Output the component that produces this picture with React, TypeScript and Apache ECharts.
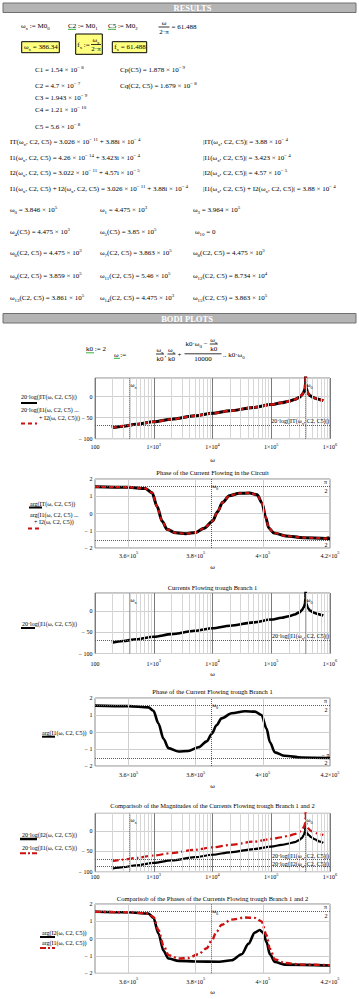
import React, { useEffect, useRef } from 'react';
import * as echarts from 'echarts';

// ---------------- data (read from the worksheet) ----------------
const omegaX = 386.34;
const omega0 = 3.846e5;
const levelIT = -68.22; // 20 log|IT(wx)|
const levelI1 = -69.31; // 20 log|I1(wx)|
const levelI2 = -86.8; // 20 log|I2(wx)|
const halfPi = 1.5708;

const logTickValues = [100, 1e3, 1e4, 1e5, 1e6];
const phaseGridValues = [3.6e5, 3.8e5, 4e5];

const magOmega = [193.17, 300, 500, 1e3, 2e3, 5e3, 1e4, 2e4, 5e4, 1e5, 1.5e5, 2e5, 2.5e5, 3e5, 3.3e5, 3.6e5, 3.75e5, 3.82e5, 3.846e5, 3.87e5, 3.95e5, 4.2e5, 4.6e5, 5.2e5, 6e5, 7e5, 7.692e5];
const magIT = [-74, -70.2, -66, -59.8, -53.8, -45.8, -39.8, -33.8, -25.8, -19, -14.8, -11, -7, -2, 3, 10.5, 19, 31, 62, 32, 19, 8, 2, -2.5, -5.5, -8, -9.5];
const magI1 = [-74.2, -70.4, -66, -60, -54, -46, -40, -34, -26, -19.2, -15, -11.2, -7.2, -2.2, 2.8, 10.3, 19, 31, 62, 32, 19, 8, 2, -2.5, -5.5, -8, -9.5];

const magI2Omega = [193.17, 300, 500, 1e3, 2e3, 5e3, 1e4, 2e4, 5e4, 1e5, 1.5e5, 2e5, 2.5e5, 3e5, 3.3e5, 3.6e5, 3.75e5, 3.82e5, 3.846e5, 3.87e5, 3.93e5, 3.99e5, 4.05e5, 4.3e5, 4.8e5, 5.5e5, 6.5e5, 7.692e5];
const magI2 = [-92.5, -88.7, -84.2, -78.2, -72.2, -64.2, -58.2, -52.2, -44.2, -38, -34, -30.5, -27, -22, -17, -9, 0, 12, 20, 12, 3, -10, -4, -9, -15, -20, -25, -29];

const phaseOmegaIT = [3.5e5, 3.6e5, 3.65e5, 3.67e5, 3.685e5, 3.7e5, 3.715e5, 3.74e5, 3.77e5, 3.8e5, 3.825e5, 3.85e5, 3.865e5, 3.88e5, 3.9e5, 3.93e5, 3.96e5, 3.983e5, 3.998e5, 4.008e5, 4.018e5, 4.033e5, 4.068e5, 4.12e5, 4.2e5];
const phaseIT = [1.55, 1.52, 1.45, 1.2, 0.4, -0.45, -0.92, -1.12, -1.17, -1.1, -0.85, -0.45, 0.1, 0.65, 1.03, 1.17, 1.19, 1.08, 0.6, -0.2, -0.85, -1.13, -1.3, -1.4, -1.46];

const phaseOmegaI1 = [3.5e5, 3.6e5, 3.659e5, 3.674e5, 3.689e5, 3.704e5, 3.719e5, 3.749e5, 3.778e5, 3.808e5, 3.833e5, 3.848e5, 3.862e5, 3.877e5, 3.907e5, 3.947e5, 3.976e5, 3.996e5, 4.011e5, 4.021e5, 4.036e5, 4.065e5, 4.115e5, 4.2e5];
const phaseI1 = [1.55, 1.52, 1.45, 1.25, 0.5, -0.4, -0.95, -1.15, -1.12, -0.9, -0.55, -0.1, 0.4, 0.8, 1.1, 1.22, 1.2, 1.0, 0.2, -0.6, -1.2, -1.4, -1.5, -1.53];

const phaseOmegaI2 = [3.5e5, 3.6e5, 3.659e5, 3.674e5, 3.689e5, 3.704e5, 3.719e5, 3.749e5, 3.8e5, 3.87e5, 3.907e5, 3.937e5, 3.957e5, 3.976e5, 3.991e5, 4.001e5, 4.011e5, 4.021e5, 4.036e5, 4.065e5, 4.2e5];
const phaseI2 = [1.55, 1.52, 1.45, 1.2, 0.3, -0.7, -1.15, -1.28, -1.32, -1.33, -1.25, -0.9, -0.3, 0.35, 0.5, 0.35, -0.2, -0.9, -1.35, -1.5, -1.55];

// ---------------- helpers ----------------
const FF = '"Liberation Serif","Times New Roman",Times,serif';
const RED = '#cc1111';
const MARK = '#a83a3a';
const zip = (xs: number[], ys: number[]) => xs.map((x, i) => [x, ys[i]]);

const n = (s: string) => `{n|${s}}`;
const sb = (s: string) => `{b|${s}}`;
const sp = (s: string) => `{s|${s}}`;

function makeRich(size: number) {
  return {
    n: { fontSize: size, fontFamily: FF, fill: '#000', lineHeight: size + 3 },
    s: { fontSize: size * 0.7, fontFamily: FF, fill: '#000', lineHeight: size * 0.7, verticalAlign: 'top' },
    b: { fontSize: size * 0.7, fontFamily: FF, fill: '#000', lineHeight: size * 0.7, verticalAlign: 'bottom' },
  };
}
function txt(x: number, y: number, text: string, o: any = {}) {
  const size = o.size ?? 7;
  return {
    type: 'text', x, y, silent: true, z: 10,
    style: {
      text, align: o.align ?? 'left', verticalAlign: 'middle', fill: '#000',
      fontSize: size, fontFamily: FF, rich: makeRich(size),
    },
  };
}
function ln(x1: number, y1: number, x2: number, y2: number, stroke = '#000', w = 0.8, dash?: number[]) {
  return { type: 'line', silent: true, z: 10, shape: { x1, y1, x2, y2 }, style: { stroke, lineWidth: w, lineDash: dash } };
}
function rect(x: number, y: number, w: number, h: number, fill: string, stroke: string) {
  return { type: 'rect', silent: true, z: 5, shape: { x, y, width: w, height: h }, style: { fill, stroke, lineWidth: 1 } };
}
function frac(cx: number, yBar: number, num: string, den: string, w: number) {
  return [txt(cx, yBar - 4.3, num, { align: 'center' }), ln(cx - w / 2, yBar, cx + w / 2, yBar), txt(cx, yBar + 4.8, den, { align: 'center' })];
}
const gline = (x1: number, x2: number, y: number) => ln(x1, y, x2, y, '#22aa22', 0.9);

// ---------------- layout of the six plots ----------------
const GRID_LEFT = 95;
const GRID_W = 235;
const grids = [
  { top: 378, height: 60.7, kind: 'mag', margin: 3.6, nameGap: 17.5, name: 'ω' },
  { top: 479, height: 69, kind: 'phase', margin: 2.7, nameGap: 15.5, name: 'ω' },
  { top: 593, height: 60.5, kind: 'mag', margin: 5, nameGap: 17, name: 'ω' },
  { top: 698, height: 68, kind: 'phase', margin: 4, nameGap: 16, name: 'ω' },
  { top: 813.3, height: 58.4, kind: 'mag', margin: 0.5, nameGap: 15, name: '' },
  { top: 904, height: 69.3, kind: 'phase', margin: 3.4, nameGap: 15.5, name: 'ω' },
];

const tickRich = {
  n: { fontSize: 6, fontFamily: FF, color: '#000', lineHeight: 10 },
  s: { fontSize: 4.3, fontFamily: FF, color: '#000', lineHeight: 4.5, verticalAlign: 'top' },
};

function buildOption() {
  const minorGrid: number[] = [];
  logTickValues.slice(0, 4).forEach((d) => { for (let k = 2; k <= 9; k++) minorGrid.push(d * k); });

  const xAxis = grids.map((g, i) => {
    const common = {
      gridIndex: i,
      axisLine: { show: false }, axisTick: { show: false },
      name: g.name, nameLocation: 'middle', nameGap: g.nameGap,
      nameTextStyle: { fontFamily: FF, fontSize: 7, color: '#000' },
    };
    if (g.kind === 'mag') {
      return {
        ...common, type: 'log', logBase: 10, min: 100, max: 1e6,
        splitLine: { show: true, lineStyle: { color: '#7a7a7a', width: 1 } },
        axisLabel: {
          margin: g.margin, showMinLabel: true, showMaxLabel: true, rich: tickRich,
          formatter: (v: number) => { const e = Math.round(Math.log10(v)); return e === 2 ? '{n|100}' : `{n|1×10}{s|${e}}`; },
        },
      };
    }
    return {
      ...common, type: 'value', min: 3.5e5, max: 4.2e5, interval: 1e4,
      splitLine: { show: false },
      axisLabel: {
        margin: g.margin, showMinLabel: true, showMaxLabel: true, rich: tickRich,
        formatter: (v: number) => { const k = Math.round(v / 1e4); return k % 2 !== 0 ? '' : `{n|${k / 10}×10}{s|5}`; },
      },
    };
  });

  const yAxis = grids.map((g, i) => {
    const common = {
      gridIndex: i, axisLine: { show: false }, axisTick: { show: false },
      splitLine: { show: true, lineStyle: { color: '#cfcfcf', width: 1 } },
    };
    if (g.kind === 'mag') {
      return {
        ...common, type: 'value', min: -100, max: 44, interval: 50,
        axisLabel: {
          margin: 2.5, rich: tickRich, showMaxLabel: false,
          formatter: (v: number) => (v % 50 !== 0 ? '' : v === 0 ? '{n|0}' : `{n|− ${-v}}`),
        },
      };
    }
    return {
      ...common, type: 'value', min: -2, max: 2, interval: 1,
      axisLabel: {
        margin: 2.5, rich: tickRich, showMaxLabel: true, showMinLabel: true,
        formatter: (v: number) => (v === 0 ? '{n|0}' : v < 0 ? `{n|− ${-v}}` : `{n|${v}}`),
      },
    };
  });

  const series: any[] = [];
  const gridLines = (gi: number, values: number[], color: string) => ({
    type: 'line', xAxisIndex: gi, yAxisIndex: gi, data: [], z: 1, silent: true,
    markLine: { silent: true, symbol: ['none', 'none'], label: { show: false }, animation: false,
      lineStyle: { color, width: 1, type: 'solid' }, data: values.map((v) => ({ xAxis: v })) },
  });
  const markers = (gi: number, data: any[]) => ({
    type: 'line', xAxisIndex: gi, yAxisIndex: gi, data: [], z: 2, silent: true,
    markLine: { silent: true, symbol: ['none', 'none'], label: { show: false }, animation: false,
      lineStyle: { color: MARK, width: 1, type: 'dotted' }, data },
  });
  const curve = (gi: number, data: number[][], color: string, width: number, type: any, z: number) => ({
    type: 'line', xAxisIndex: gi, yAxisIndex: gi, data, z, silent: true,
    showSymbol: false, symbol: 'none', smooth: 0.3, smoothMonotone: 'x', clip: true,
    lineStyle: { color, width, type, cap: 'butt' },
  });

  [0, 2, 4].forEach((gi) => series.push(gridLines(gi, minorGrid, '#d6d6d6')));
  [1, 3, 5].forEach((gi) => series.push(gridLines(gi, phaseGridValues, '#cfcfcf')));

  series.push(markers(0, [{ xAxis: omegaX }, { xAxis: omega0 }, { yAxis: levelIT }]));
  series.push(markers(1, [{ xAxis: omega0 }, { yAxis: halfPi }, { yAxis: -halfPi }]));
  series.push(markers(2, [{ xAxis: omegaX }, { xAxis: omega0 }, { yAxis: levelI1 }]));
  series.push(markers(3, [{ xAxis: omega0 }, { yAxis: halfPi }, { yAxis: -halfPi }]));
  series.push(markers(4, [{ xAxis: omegaX }, { xAxis: omega0 }, { yAxis: levelI1 }, { yAxis: levelI2 }]));
  series.push(markers(5, [{ xAxis: omega0 }, { yAxis: halfPi }]));

  // plot 1: |IT| and |I1+I2|
  series.push(curve(0, zip(magOmega, magIT), '#000', 3, 'solid', 3));
  series.push(curve(0, zip(magOmega, magIT), RED, 2.4, [5, 3], 4));
  // plot 2: arg IT and arg(I1+I2)
  series.push(curve(1, zip(phaseOmegaIT, phaseIT), '#000', 3, 'solid', 3));
  series.push(curve(1, zip(phaseOmegaIT, phaseIT), RED, 2.2, [4, 3], 4));
  // plot 3: |I1|
  series.push(curve(2, zip(magOmega, magI1), '#000', 2.6, 'solid', 3));
  // plot 4: arg I1
  series.push(curve(3, zip(phaseOmegaI1, phaseI1), '#000', 2.6, 'solid', 3));
  // plot 5: |I2| and |I1|
  series.push(curve(4, zip(magI2Omega, magI2), '#000', 2.2, 'solid', 3));
  series.push(curve(4, zip(magOmega, magI1), RED, 2.2, [7, 3, 2, 3], 4));
  // plot 6: arg I2 and arg I1
  series.push(curve(5, zip(phaseOmegaI2, phaseI2), '#000', 2.6, 'solid', 3));
  series.push(curve(5, zip(phaseOmegaI1, phaseI1), RED, 2.4, [6, 3, 2, 3], 4));

  return {
    animation: false,
    backgroundColor: '#ffffff',
    grid: grids.map((g) => ({ left: GRID_LEFT, top: g.top, width: GRID_W, height: g.height, show: true, borderColor: '#8a8a8a', borderWidth: 1, backgroundColor: 'transparent' })),
    xAxis, yAxis, series,
  };
}

function staticGraphics() {
  const g: any[] = [];
  // section bars
  g.push(rect(3, 3, 353, 9.5, '#b4b4b4', '#707070'));
  g.push({ type: 'text', x: 192.5, y: 8, silent: true, z: 10, style: { text: 'RESULTS', fill: '#ffffff', fontSize: 8.5, fontWeight: 'bold', fontFamily: FF, align: 'center', verticalAlign: 'middle' } });
  g.push(rect(3, 313.5, 353, 9.5, '#b4b4b4', '#707070'));
  g.push({ type: 'text', x: 187, y: 318.5, silent: true, z: 10, style: { text: 'BODI PLOTS', fill: '#ffffff', fontSize: 8.5, fontWeight: 'bold', fontFamily: FF, align: 'center', verticalAlign: 'middle' } });

  // definitions row
  g.push(txt(21, 25.5, n('ω') + sb('x') + n(' := M0') + sb('0')));
  g.push(txt(68, 25.5, n('C2 := M0') + sb('1')), gline(68, 76, 29.3));
  g.push(txt(108, 25.5, n('C5 := M0') + sb('2')), gline(108, 116, 29.3));
  g.push(...frac(164, 27, n('ω'), n('2·π'), 11));
  g.push(txt(171.5, 26.8, n('= 61.488')));

  // yellow boxes
  g.push(rect(21.7, 41.7, 37.6, 11, '#ffff80', '#000'));
  g.push(txt(24, 47.2, n('ω') + sb('x') + n(' = 386.34')));
  g.push(rect(75.7, 34, 26.6, 20.3, '#ffff80', '#000'));
  g.push(txt(77.3, 45, n('f') + sb('x') + n(' :=')));
  g.push(...frac(96, 44.5, n('ω') + sb('x'), n('2·π'), 10));
  g.push(rect(112.3, 41.7, 34.4, 11, '#ffff80', '#000'));
  g.push(txt(114.2, 47.2, n('f') + sb('x') + n(' = 61.488')));

  // capacitors
  g.push(txt(35, 69.5, n('C1 = 1.54 × 10') + sp('− 8')));
  g.push(txt(120, 69.5, n('Cp(C5) = 1.878 × 10') + sp('− 9')));
  g.push(txt(35, 85.5, n('C2 = 4.7 × 10') + sp('− 7')));
  g.push(txt(120, 85.5, n('Cq(C2, C5) = 1.679 × 10') + sp('− 8')));
  g.push(txt(35, 98, n('C3 = 1.943 × 10') + sp('− 9')));
  g.push(txt(35, 109.5, n('C4 = 1.21 × 10') + sp('− 10')));
  g.push(txt(35, 126.5, n('C5 = 5.6 × 10') + sp('− 8')));

  // currents at wx
  const wa = (f: string) => n(f + '(ω') + sb('x') + n(', C2, C5)');
  g.push(txt(10, 141.5, wa('IT') + n(' = 3.026 × 10') + sp('− 11') + n(' + 3.88i × 10') + sp('− 4')));
  g.push(txt(203, 141.5, n('|') + wa('IT') + n('| = 3.88 × 10') + sp('− 4')));
  g.push(txt(10, 157.5, wa('I1') + n(' = 4.26 × 10') + sp('− 14') + n(' + 3.423i × 10') + sp('− 4')));
  g.push(txt(203, 157.5, n('|') + wa('I1') + n('| = 3.423 × 10') + sp('− 4')));
  g.push(txt(10, 173, wa('I2') + n(' = 3.022 × 10') + sp('− 11') + n(' + 4.57i × 10') + sp('− 5')));
  g.push(txt(203, 173, n('|') + wa('I2') + n('| = 4.57 × 10') + sp('− 5')));
  g.push(txt(10, 188.5, wa('I1') + n(' + ') + wa('I2') + n(' = 3.026 × 10') + sp('− 11') + n(' + 3.88i × 10') + sp('− 4')));
  g.push(txt(203, 188.5, n('|') + wa('I1') + n(' + ') + wa('I2') + n('| = 3.88 × 10') + sp('− 4')));

  // characteristic frequencies
  const om = (sub: string, arg: string, val: string, exp?: string) =>
    n('ω') + sb(sub) + n(arg + ' = ' + val + (exp ? ' × 10' : '')) + (exp ? sp(exp) : '');
  const rows: [number, [string, string, string, string?][]][] = [
    [210, [['0', '', '3.846', '5'], ['1', '', '4.475', '3'], ['3', '', '3.964', '5']]],
    [232, [['4', '(C5)', '4.475', '3'], ['5', '(C5)', '3.85', '5'], ['10', '', '0']]],
    [253, [['6', '(C2, C5)', '4.475', '3'], ['7', '(C2, C5)', '3.863', '5'], ['8', '(C2, C5)', '4.475', '3']]],
    [276, [['9', '(C2, C5)', '3.859', '5'], ['11', '(C2, C5)', '5.46', '5'], ['12', '(C2, C5)', '8.734', '4']]],
    [298, [['13', '(C2, C5)', '3.861', '5'], ['14', '(C2, C5)', '4.475', '3'], ['15', '(C2, C5)', '3.863', '5']]],
  ];
  const cols = [10, 100, 193];
  rows.forEach(([y, items]) => items.forEach((it, k) => g.push(txt(cols[k] + (it[0] === '10' ? 2 : 0), y, om(it[0], it[1], it[2], it[3])))));

  // range variable
  g.push(txt(86, 349, n('k0 := 2')), gline(86, 94, 352.8));
  g.push(txt(114, 354.5, n('ω :=')), gline(114, 120, 358.3));
  g.push(...frac(160, 354, n('ω') + sb('x'), n('k0'), 8));
  g.push(txt(164.6, 355, n(',')));
  g.push(...frac(171.5, 354, n('ω') + sb('x'), n('k0'), 8));
  g.push(txt(177.6, 354.5, n('+')));
  g.push(ln(184.5, 353.8, 221.5, 353.8));
  g.push(txt(203, 359, n('10000'), { align: 'center' }));
  g.push(txt(185.5, 344.3, n('k0·ω') + sb('0') + n(' −')));
  g.push(...frac(213.8, 344, n('ω') + sb('x'), n('k0'), 8));
  g.push(txt(223, 354.8, n('.. k0·ω') + sb('0')));

  // titles
  const title = (y: number, s: string) => txt(212.5, y, n(s), { align: 'center', size: 6.5 });
  g.push(title(472, 'Phase of the Current Flowing in the Circuit'));
  g.push(title(587, 'Currents Flowing trough Branch 1'));
  g.push(title(691, 'Phase of the Current Flowing trough Branch 1'));
  g.push(title(805, 'Comparisob of the Magnitudes of the Currents Flowing trough Branch 1 and 2'));
  g.push(title(898, 'Comparisob of the Phases of the Currents Flowing trough Branch 1 and 2'));

  // trace legends (Mathcad y-axis expressions)
  const L = (x: number, y: number, s: string) => txt(x, y, n(s), { size: 6 });
  g.push(L(21, 396.5, '20·log(|IT(ω, C2, C5)|)'), ln(21, 403, 37, 403, '#000', 2));
  g.push(L(21, 410, '20·log(|I1(ω, C2, C5) ...'), L(39, 417.5, '+ I2(ω, C2, C5)|)'));
  g.push(ln(21, 423.5, 37, 423.5, RED, 2, [4, 3]));

  g.push(L(30, 503.5, 'arg(IT(ω, C2, C5))'), ln(29, 507.5, 42, 507.5, '#000', 2));
  g.push(L(30, 515, 'arg(I1(ω, C2, C5) ...'), L(34, 522.3, '+ I2(ω, C2, C5))'));
  g.push(ln(28, 528.5, 42, 528.5, RED, 2, [4, 3]));

  g.push(L(22, 623.5, '20·log(|I1(ω, C2, C5)|)'), ln(21, 628, 35, 628, '#000', 2));
  g.push(L(42, 732.7, 'arg(I1(ω, C2, C5))'), ln(42, 736.7, 55, 736.7, '#000', 2));

  g.push(L(22, 835, '20·log(|I2(ω, C2, C5)|)'), ln(20, 839, 37, 839, '#000', 2.5));
  g.push(L(22, 847.7, '20·log(|I1(ω, C2, C5)|)'), ln(20, 853.3, 37, 853.3, RED, 2, [6, 2, 2, 2]));

  g.push(L(42, 932.5, 'arg(I2(ω, C2, C5))'), ln(40, 937, 55, 937, '#000', 2));
  g.push(L(42, 942.5, 'arg(I1(ω, C2, C5))'), ln(40, 948, 55, 948, RED, 2, [6, 2, 2, 2]));
  return g;
}

function markerGraphics(chart: any) {
  const g: any[] = [];
  const px = (gi: number, x: number, y: number) => chart.convertToPixel({ gridIndex: gi }, [x, y]) as number[];
  const R = GRID_LEFT + GRID_W;
  const small = (x: number, y: number, s: string, align = 'left') => txt(x, y, s, { size: 6, align });
  const wLabel = (gi: number, w: number, sub: string) => {
    const [x] = px(gi, w, 0);
    g.push(small(x + 1, grids[gi].top + 6.5, n('ω') + sb(sub)));
  };
  const level = (gi: number, v: number, f: string, dy = -4.3) => {
    const y = px(gi, 1000, v)[1];
    g.push(small(R - 1, y + dy, n('20·log(|' + f + '(ω') + sb('x') + n(', C2, C5)|)'), 'right'));
  };
  const piLabel = (gi: number, sign: number) => {
    const y = px(gi, 4e5, sign * halfPi)[1];
    g.push(small(R - 4.5, y - 4, n(sign > 0 ? 'π' : '− π'), 'center'));
    g.push(small(R - 4, y + 4.5, n('2'), 'center'));
  };
  wLabel(0, omegaX, 'x'); wLabel(0, omega0, '0'); level(0, levelIT, 'IT');
  wLabel(1, omega0, '0'); piLabel(1, 1); piLabel(1, -1);
  wLabel(2, omegaX, 'x'); wLabel(2, omega0, '0'); level(2, levelI1, 'I1');
  wLabel(3, omega0, '0'); piLabel(3, 1); piLabel(3, -1);
  wLabel(4, omegaX, 'x'); wLabel(4, omega0, '0'); level(4, levelI1, 'I1', -3); level(4, levelI2, 'I2', -2.5);
  wLabel(5, omega0, '0'); piLabel(5, 1);
  return g;
}

export default function App() {
  const ref = useRef<HTMLDivElement>(null);
  useEffect(() => {
    const el = ref.current as HTMLDivElement;
    const chart = echarts.init(el, null, { renderer: 'svg' });
    chart.setOption(buildOption() as any);
    chart.setOption({ graphic: { elements: [...staticGraphics(), ...markerGraphics(chart)] } } as any);
    return () => chart.dispose();
  }, []);
  return (
    <div
      ref={ref}
      style={{ position: 'absolute', left: 0, top: 0, width: 359, height: 999, background: '#fff' }}
    />
  );
}
